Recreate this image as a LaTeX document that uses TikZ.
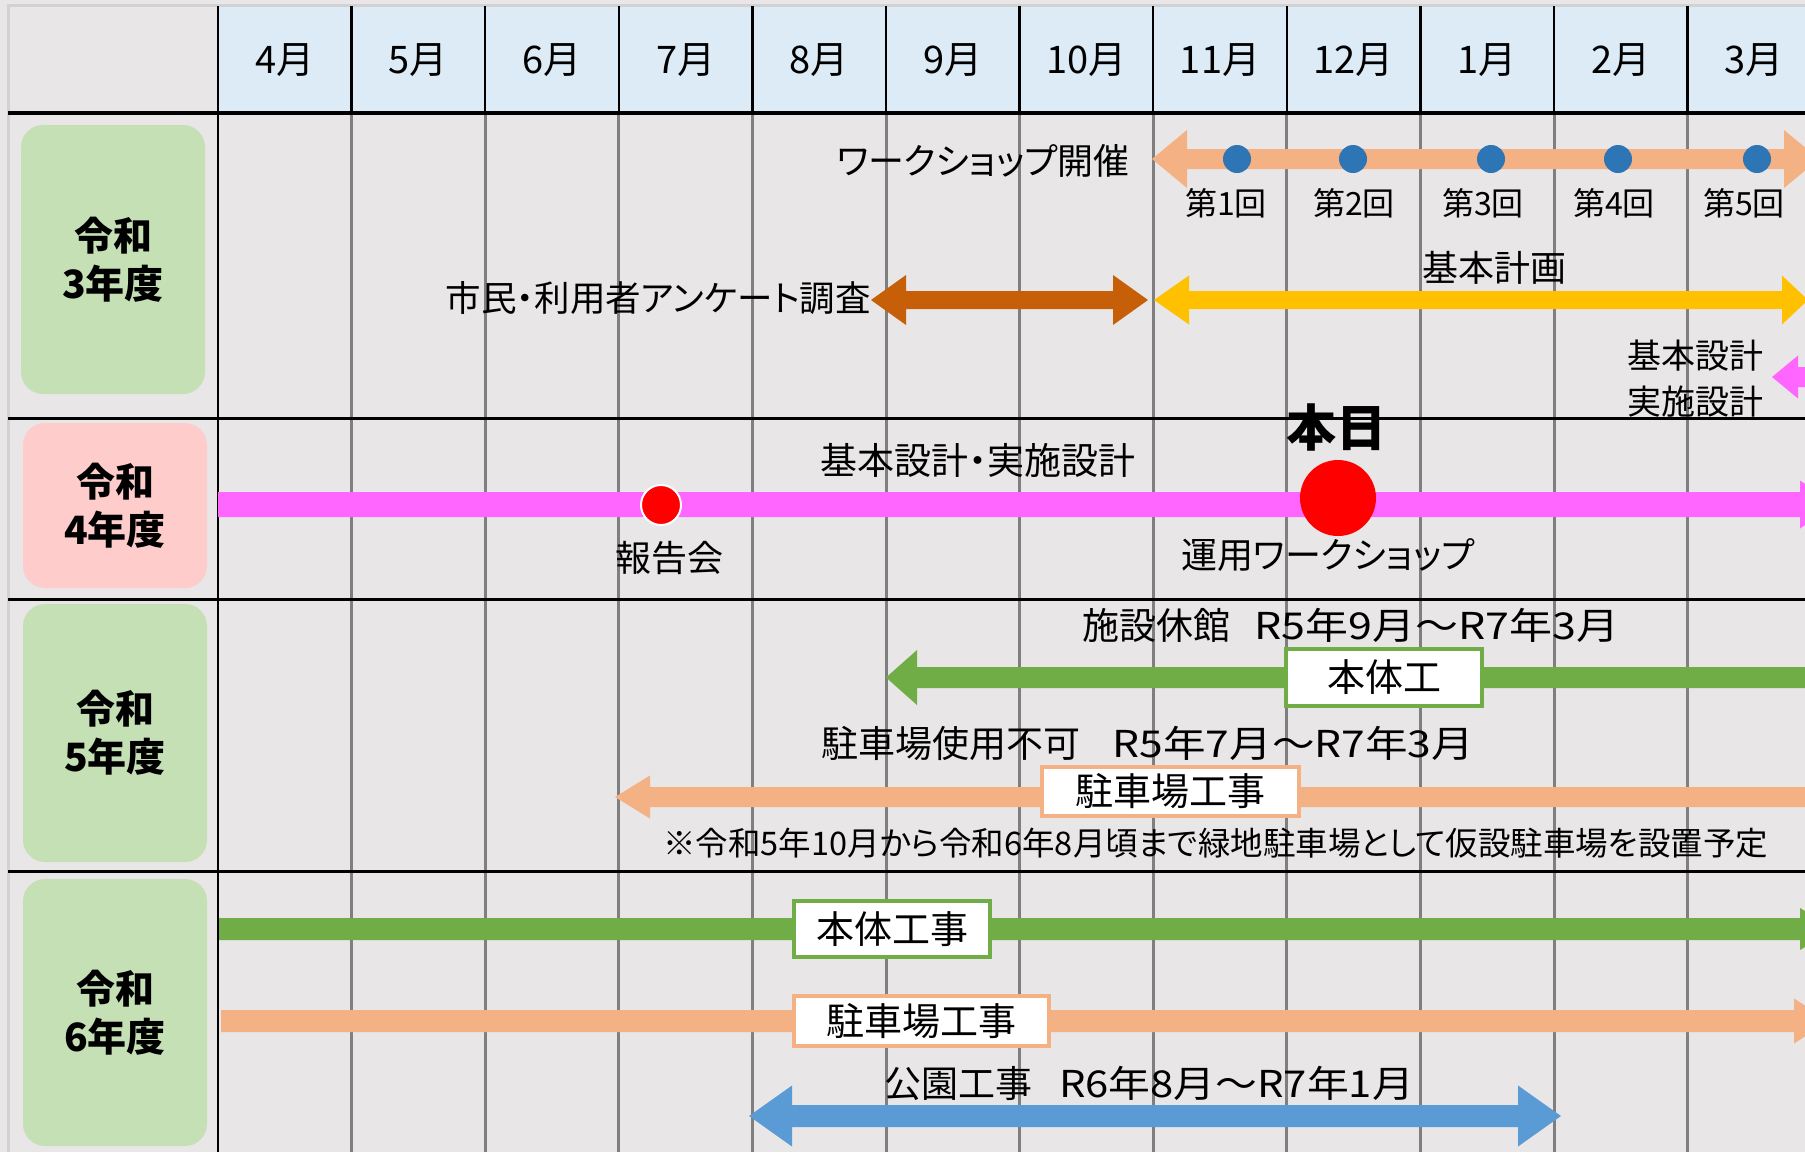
\documentclass[tikz,border=0pt]{standalone}
\usepackage{graphicx}
\usepackage{fontspec}
\setmainfont{Noto Sans CJK JP}[RawFeature=+palt]
\definecolor{bgc}{HTML}{E8E6E7}
\definecolor{brd}{HTML}{D3D1D2}
\definecolor{hdr}{HTML}{DDEBF7}
\definecolor{gridg}{HTML}{7F7F7F}
\definecolor{salm}{HTML}{F4B183}
\definecolor{dotb}{HTML}{2E75B6}
\definecolor{brn}{HTML}{C65F08}
\definecolor{yel}{HTML}{FFC000}
\definecolor{pnk}{HTML}{FF66FF}
\definecolor{grn}{HTML}{70AD47}
\definecolor{blu}{HTML}{5B9BD5}
\definecolor{lgrn}{HTML}{C5E0B4}
\definecolor{lpnk}{HTML}{FFCCCC}
% double arrow: colour, left tip, right tip, y, shaft half, head half, left head length, right head length
\newcommand{\arrDD}[8]{\fill[#1] (#2,#4) -- ({#2+#7},{#4-#6}) -- ({#2+#7},{#4-#5}) -- ({#3-#8},{#4-#5}) -- ({#3-#8},{#4-#6}) -- (#3,#4) -- ({#3-#8},{#4+#6}) -- ({#3-#8},{#4+#5}) -- ({#2+#7},{#4+#5}) -- ({#2+#7},{#4+#6}) -- cycle;}
\newcommand{\arrR}[7]{\fill[#1] (#2,{#4-#5}) -- ({#3-#7},{#4-#5}) -- ({#3-#7},{#4-#6}) -- (#3,#4) -- ({#3-#7},{#4+#6}) -- ({#3-#7},{#4+#5}) -- (#2,{#4+#5}) -- cycle;}
\newcommand{\arrL}[7]{\fill[#1] (#2,#4) -- ({#2+#7},{#4-#6}) -- ({#2+#7},{#4-#5}) -- (#3,{#4-#5}) -- (#3,{#4+#5}) -- ({#2+#7},{#4+#5}) -- ({#2+#7},{#4+#6}) -- cycle;}
\tikzset{
  mon/.style={inner sep=0pt, font=\fontsize{38}{42}\selectfont},
  txt/.style={inner sep=0pt, font=\fontsize{36}{40}\selectfont},
  small/.style={inner sep=0pt, font=\fontsize{32}{36}\selectfont},
  yearbox/.style={rounded corners=22pt, minimum width=184pt, inner sep=0pt, align=center,
     font=\fontsize{39}{48}\selectfont\bfseries},
  tagbox/.style={fill=white, line width=4pt, inner sep=0pt, font=\fontsize{38}{42}\selectfont},
  wdot/.style={circle, fill=dotb, minimum size=28pt, inner sep=0pt},
}
\begin{document}
\begin{tikzpicture}[x=1pt,y=-1pt]
\useasboundingbox (0,0) rectangle (1805,1152);
\clip (0,0) rectangle (1805,1152);
% background and header
\fill[bgc] (0,0) rectangle (1805,1152);
\fill[hdr] (218,6) rectangle (1805,113);
\draw[brd, line width=3pt] (8.5,1152) -- (8.5,5.5) -- (1805,5.5);
% grid
\foreach \k in {1,...,11} {
  \draw[gridg, line width=3pt] ({218+133.6*\k},113) -- ({218+133.6*\k},1152);
  \draw[black, line width=2.5pt] ({218+133.6*\k},6) -- ({218+133.6*\k},113);
}
\draw[black, line width=2.5pt] (218,6) -- (218,1152);
\draw[black, line width=4pt] (8,113) -- (1805,113);
\foreach \yy in {418,599,871} \draw[black, line width=3pt] (8,\yy) -- (1805,\yy);
% month headers
\foreach \m [count=\i from 0] in {4月,5月,6月,7月,8月,9月,10月,11月,12月,1月,2月,3月}
  \node[mon] (m\i) at ({218+133.6*(\i+0.5)},60) {\m};
% year boxes
\node[yearbox, fill=lgrn, minimum height=269pt] (y3) at (113,259.5) {令和\\3年度};
\node[yearbox, fill=lpnk, minimum height=165pt] (y4) at (115,505.5) {令和\\4年度};
\node[yearbox, fill=lgrn, minimum height=258pt] (y5) at (115,733) {令和\\5年度};
\node[yearbox, fill=lgrn, minimum height=267pt] (y6) at (115,1012.5) {令和\\6年度};
% ---- R3 row
\arrDD{salm}{1152}{1819}{159}{10}{29}{35}{35}
\arrDD{brn}{871}{1148}{300}{9}{25}{35}{35}
\arrDD{yel}{1154}{1808}{300}{9}{24.5}{35}{26}
\arrL{pnk}{1772}{1900}{377}{10}{21.5}{26}
\foreach \xx [count=\j] in {1237,1353,1491,1618,1757}
  \node[wdot] (d\j) at (\xx,159) {};
\node[txt, anchor=east] (ws) at (1130,161) {ワークショップ開催};
\foreach \xx [count=\j] in {1226,1354,1483,1614,1744}
  \node[small] (k\j) at (\xx,203) {第\j 回};
\node[txt] (kk) at (1494,268) {基本計画};
\node[txt, anchor=east, font=\fontsize{35.5}{40}\selectfont] (sv) at (871,298) {市民・利用者アンケート調査};
\node[inner sep=0pt, align=center, font=\fontsize{34}{46}\selectfont] (ks) at (1695,379) {基本設計\\実施設計};
% ---- R4 row
\arrR{pnk}{218}{1835}{504.5}{12.5}{24}{35}
\node[circle, fill=red, draw=white, line width=2pt, minimum size=40pt, inner sep=0pt] (rp) at (661,505) {};
\node[circle, fill=red, minimum size=76pt, inner sep=0pt] (td) at (1338,498) {};
\node[txt] (rpl) at (669,558) {報告会};
\node[txt, font=\fontsize{37}{40}\selectfont] (kj) at (978,460) {基本設計・実施設計};
\node[inner sep=0pt, font=\fontsize{50}{54}\selectfont\bfseries] (tdl) at (1336,427) {本日};
\node[txt] (uw) at (1328,555) {運用ワークショップ};
% ---- R5 row
\arrL{grn}{886}{1900}{677.5}{10.5}{27.5}{31}
\arrL{salm}{615}{1900}{797}{10}{21.5}{35}
\node[txt, font=\fontsize{37}{40}\selectfont] (sk) at (1350.5,625) {\makebox[537pt]{施設休館\hfill\scalebox{1.16}[1]{R5年9月～R7年3月}}};
\node[tagbox, draw=grn, minimum width=196pt, minimum height=57pt] (hb5) at (1384,677.5) {本体工};
\node[txt, font=\fontsize{37}{40}\selectfont] (pk) at (1147.5,743) {\makebox[653pt]{駐車場使用不可\hfill\scalebox{1.15}[1]{R5年7月～R7年3月}}};
\node[tagbox, draw=salm, minimum width=257pt, minimum height=49pt] (pb5) at (1170.5,791.5) {駐車場工事};
\node[inner sep=0pt, font=\fontsize{32.5}{36}\selectfont, anchor=west] (nt) at (663,843) {※令和5年10月から令和6年8月頃まで緑地駐車場として仮設駐車場を設置予定};
% ---- R6 row
\arrR{grn}{219}{1835}{929}{11}{21}{35}
\arrR{salm}{221}{1829}{1021}{11}{22.5}{35}
\arrDD{blu}{749}{1561}{1116}{11}{30.5}{43}{43}
\node[tagbox, draw=grn, minimum width=196pt, minimum height=56pt] (hb6) at (892,929) {本体工事};
\node[tagbox, draw=salm, minimum width=255pt, minimum height=50pt] (pb6) at (921.5,1021) {駐車場工事};
\node[txt, font=\fontsize{37}{40}\selectfont] (kp) at (1149,1083) {\makebox[530pt]{公園工事\hfill\scalebox{1.13}[1]{R6年8月～R7年1月}}};
\end{tikzpicture}
\end{document}
